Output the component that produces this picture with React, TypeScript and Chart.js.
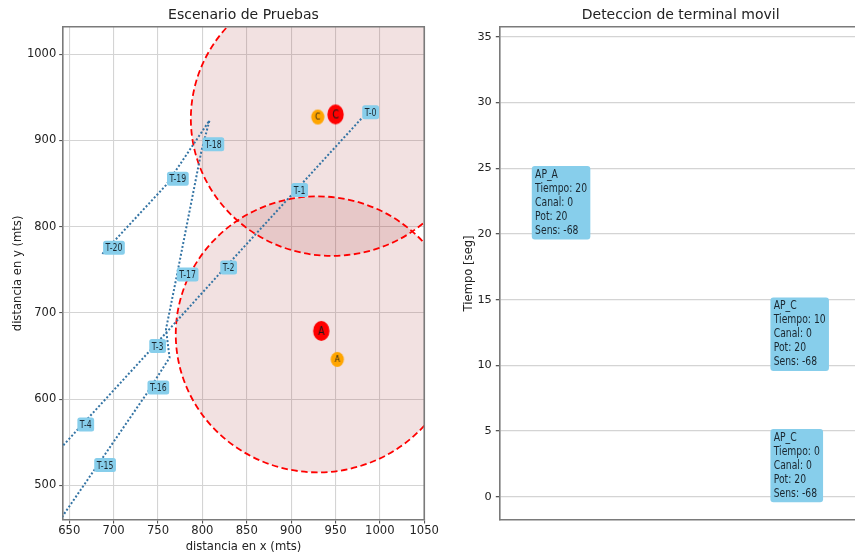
import React, { useEffect, useRef } from 'react';
import { Chart, registerables } from 'chart.js';

Chart.register(...registerables);

const FONT = '"DejaVu Sans", "Liberation Sans", sans-serif';

// ---------------- Left chart: Escenario de Pruebas ----------------
const xTickValues = [650, 700, 750, 800, 850, 900, 950, 1000, 1050];
const yTickValues = [500, 600, 700, 800, 900, 1000];

// trajectory of the mobile terminal (T-5 .. T-14 lie outside the visible window)
const trajX = [979, 899, 819, 739, 658, 578, 617, 677, 737, 763, 759, 770, 799, 808, 759, 687];
const trajY = [925, 835, 745, 654, 563, 473, 426, 516, 606, 648, 681, 737, 888, 923, 848, 768];
const trajLabels = ['T-0', 'T-1', 'T-2', 'T-3', 'T-4', '', '', 'T-15', 'T-16', '', '', 'T-17', 'T-18', '', 'T-19', 'T-20'];

// access points (real) and estimated positions
const apNames = ['A', 'C'];
const apX = [934, 950];
const apY = [679, 930];
const estNames = ['A', 'C'];
const estX = [952, 930];
const estY = [646, 927];

// coverage circles
const coverX = [930, 946];
const coverY = [675, 925];
const coverR = [160, 159];

// ---------------- Right chart: Deteccion de terminal movil ----------------
const tiempoTicks = [0, 5, 10, 15, 20, 25, 30, 35];
const detNames = ['AP_A', 'AP_C', 'AP_C'];
const detSlot = [1, 3, 3];
const detTiempo = [20, 10, 0];
const detCanal = [0, 0, 0];
const detPot = [20, 20, 20];
const detSens = [-68, -68, -68];

const TEXT = '#222222';
const GRID = '#d4d4d4';
const SPINE = '#7a7a7a';
const BOX = '#87ceeb';

function makeMarker(fill: string, rx: number, ry: number, letter: string, size: number) {
  const c = document.createElement('canvas');
  const w = Math.ceil(rx * 2 + 2);
  const h = Math.ceil(ry * 2 + 2);
  c.width = w;
  c.height = h;
  const g = c.getContext('2d')!;
  g.fillStyle = fill;
  g.beginPath();
  g.ellipse(w / 2, h / 2, rx, ry, 0, 0, Math.PI * 2);
  g.fill();
  g.fillStyle = '#1a1a1a';
  g.font = `${size}px ${FONT}`;
  g.textAlign = 'center';
  g.textBaseline = 'middle';
  g.save();
  g.translate(w / 2, h / 2 + 0.5);
  g.scale(0.8, 1);
  g.fillText(letter, 0, 0);
  g.restore();
  return c;
}

function roundRect(ctx: CanvasRenderingContext2D, x: number, y: number, w: number, h: number, r: number) {
  ctx.beginPath();
  ctx.moveTo(x + r, y);
  ctx.lineTo(x + w - r, y);
  ctx.arcTo(x + w, y, x + w, y + r, r);
  ctx.lineTo(x + w, y + h - r);
  ctx.arcTo(x + w, y + h, x + w - r, y + h, r);
  ctx.lineTo(x + r, y + h);
  ctx.arcTo(x, y + h, x, y + h - r, r);
  ctx.lineTo(x, y + r);
  ctx.arcTo(x, y, x + r, y, r);
  ctx.closePath();
}

const coveragePlugin = {
  id: 'coverage',
  beforeDatasetsDraw(chart: any) {
    const { ctx, chartArea: a, scales } = chart;
    const xs = scales.x;
    const ys = scales.y;
    ctx.save();
    ctx.beginPath();
    ctx.rect(a.left, a.top, a.right - a.left, a.bottom - a.top);
    ctx.clip();
    const shapes = coverX.map((cx, i) => {
      const px = xs.getPixelForValue(cx);
      const py = ys.getPixelForValue(coverY[i]);
      const rx = Math.abs(xs.getPixelForValue(cx + coverR[i]) - px);
      const ry = Math.abs(ys.getPixelForValue(coverY[i] + coverR[i]) - py);
      return { px, py, rx, ry };
    });
    shapes.forEach((s) => {
      ctx.beginPath();
      ctx.ellipse(s.px, s.py, s.rx, s.ry, 0, 0, Math.PI * 2);
      ctx.fillStyle = 'rgba(165,42,42,0.14)';
      ctx.fill();
    });
    shapes.forEach((s) => {
      ctx.beginPath();
      ctx.ellipse(s.px, s.py, s.rx, s.ry, 0, 0, Math.PI * 2);
      ctx.setLineDash([6.5, 3.5]);
      ctx.strokeStyle = '#ff0000';
      ctx.lineWidth = 1.8;
      ctx.stroke();
    });
    ctx.restore();
  },
};

const trajLabelPlugin = {
  id: 'trajLabels',
  afterDatasetsDraw(chart: any) {
    const { ctx, chartArea: a, scales } = chart;
    const xs = scales.x;
    const ys = scales.y;
    ctx.save();
    ctx.beginPath();
    ctx.rect(a.left, a.top, a.right - a.left, a.bottom - a.top);
    ctx.clip();
    ctx.font = `10.5px ${FONT}`;
    ctx.textBaseline = 'alphabetic';
    ctx.textAlign = 'left';
    const sx = 0.74;
    trajLabels.forEach((lab, i) => {
      if (!lab) return;
      const px = xs.getPixelForValue(trajX[i]);
      const py = ys.getPixelForValue(trajY[i]);
      const tw = ctx.measureText(lab).width * sx;
      const bw = tw + 5;
      const bh = 14;
      const bx = px + 1;
      const by = py + 0.5 - bh;
      ctx.fillStyle = BOX;
      roundRect(ctx, bx, by, bw, bh, 2.5);
      ctx.fill();
      ctx.save();
      ctx.translate(bx + 2.5, by + bh - 3.3);
      ctx.scale(sx, 1);
      ctx.fillStyle = '#1b2730';
      ctx.fillText(lab, 0, 0);
      ctx.restore();
    });
    ctx.restore();
  },
};

const leftFramePlugin = {
  id: 'leftFrame',
  afterDraw(chart: any) {
    const { ctx, chartArea: a } = chart;
    ctx.save();
    ctx.strokeStyle = SPINE;
    ctx.lineWidth = 1.6;
    ctx.beginPath();
    ctx.moveTo(a.left, a.top);
    ctx.lineTo(a.right, a.top);
    ctx.lineTo(a.right, a.bottom);
    ctx.stroke();
    ctx.restore();
  },
};

const rightFramePlugin = {
  id: 'rightFrame',
  afterDraw(chart: any) {
    const { ctx, chartArea: a } = chart;
    ctx.save();
    ctx.strokeStyle = SPINE;
    ctx.lineWidth = 1.6;
    ctx.beginPath();
    ctx.moveTo(a.left, a.top);
    ctx.lineTo(a.right, a.top);
    ctx.stroke();
    ctx.restore();
  },
};

const detBoxPlugin = {
  id: 'detBoxes',
  afterDatasetsDraw(chart: any) {
    const { ctx, scales } = chart;
    const xs = scales.x;
    const ys = scales.y;
    ctx.save();
    ctx.font = `12px ${FONT}`;
    ctx.textAlign = 'left';
    ctx.textBaseline = 'alphabetic';
    const sx = 0.77;
    const lh = 14;
    detNames.forEach((name, i) => {
      const lines = [
        name,
        `Tiempo: ${detTiempo[i]}`,
        `Canal: ${detCanal[i]}`,
        `Pot: ${detPot[i]}`,
        `Sens: ${detSens[i]}`,
      ];
      const px = xs.getPixelForValue(detSlot[i]);
      const py = ys.getPixelForValue(detTiempo[i]);
      const tw = Math.max(...lines.map((l) => ctx.measureText(l).width)) * sx;
      const pad = 3.3;
      const bx = px - pad;
      const bottom = py + 5.6;
      const top = py - (lines.length - 1) * lh - 11.8;
      ctx.fillStyle = BOX;
      roundRect(ctx, bx, top, tw + pad * 2, bottom - top, 3);
      ctx.fill();
      lines.forEach((l, k) => {
        ctx.save();
        ctx.translate(px, py - (lines.length - 1 - k) * lh);
        ctx.scale(sx, 1);
        ctx.fillStyle = '#1b2730';
        ctx.fillText(l, 0, 0);
        ctx.restore();
      });
    });
    ctx.restore();
  },
};

export default function App() {
  const leftRef = useRef<HTMLCanvasElement | null>(null);
  const rightRef = useRef<HTMLCanvasElement | null>(null);

  useEffect(() => {
    if (!leftRef.current || !rightRef.current) return;
    const apMarkers = apNames.map((n) => makeMarker('#ff0000', 8.2, 10, n, 12));
    const estMarkers = estNames.map((n) => makeMarker('#ffa500', 6.6, 7.4, n, 9.5));

    const left = new Chart(leftRef.current, {
      type: 'scatter',
      data: {
        datasets: [
          {
            data: apX.map((x, i) => ({ x, y: apY[i] })),
            pointStyle: apMarkers as any,
            pointRadius: 9,
            order: 1,
          },
          {
            data: estX.map((x, i) => ({ x, y: estY[i] })),
            pointStyle: estMarkers as any,
            pointRadius: 7,
            order: 2,
          },
          {
            data: trajX.map((x, i) => ({ x, y: trajY[i] })),
            showLine: true,
            borderColor: '#3474a4',
            borderWidth: 2,
            borderDash: [2, 2],
            pointRadius: 0,
            fill: false,
            tension: 0,
            order: 3,
          } as any,
        ],
      },
      options: {
        responsive: false,
        animation: false,
        events: [],
        layout: { padding: { left: 0, right: 14.3, top: 0, bottom: 0 } },
        plugins: {
          legend: { display: false },
          tooltip: { enabled: false },
          title: {
            display: true,
            text: 'Escenario de Pruebas',
            fullSize: false,
            color: TEXT,
            font: { family: FONT, size: 14, weight: 'normal' as any, lineHeight: 1.2 },
            padding: { top: 7, bottom: 3 },
          },
        },
        scales: {
          x: {
            type: 'linear',
            min: 642.6,
            max: 1050,
            afterBuildTicks: (s: any) => {
              s.ticks = xTickValues.map((v) => ({ value: v }));
            },
            afterFit: (s: any) => {
              s.height = 39;
            },
            ticks: {
              callback: (v: any) => String(v),
              autoSkip: false,
              maxRotation: 0,
              color: TEXT,
              font: { family: FONT, size: 11.6 },
              padding: 1,
            },
            grid: { color: GRID, lineWidth: 1.1, tickLength: 3.5, tickColor: '#555' },
            border: { color: SPINE, width: 1.6 },
            title: {
              display: true,
              text: 'distancia en x (mts)',
              color: TEXT,
              font: { family: FONT, size: 11.6, lineHeight: 1.2 },
              padding: { top: 0, bottom: 5 },
            },
          },
          y: {
            type: 'linear',
            min: 459.8,
            max: 1031.6,
            afterBuildTicks: (s: any) => {
              s.ticks = yTickValues.map((v) => ({ value: v }));
            },
            afterFit: (s: any) => {
              s.width = 62.7;
            },
            ticks: {
              callback: (v: any) => String(v),
              autoSkip: false,
              color: TEXT,
              font: { family: FONT, size: 11.5 },
              padding: 3,
            },
            grid: { color: GRID, lineWidth: 1.1, tickLength: 3.5, tickColor: '#555' },
            border: { color: SPINE, width: 1.6 },
            title: {
              display: true,
              text: 'distancia en y (mts)',
              color: TEXT,
              font: { family: FONT, size: 11.6, lineHeight: 1.2 },
              padding: { top: 11, bottom: 0 },
            },
          },
        },
      },
      plugins: [coveragePlugin, trajLabelPlugin, leftFramePlugin],
    } as any);

    const right = new Chart(rightRef.current, {
      type: 'scatter',
      data: {
        datasets: [
          {
            data: detSlot.map((x, i) => ({ x, y: detTiempo[i] })),
            pointRadius: 0,
          },
        ],
      },
      options: {
        responsive: false,
        animation: false,
        events: [],
        layout: { padding: { left: 0, right: 8, top: 0, bottom: 0 } },
        plugins: {
          legend: { display: false },
          tooltip: { enabled: false },
          title: {
            display: true,
            text: 'Deteccion de terminal movil',
            fullSize: false,
            color: TEXT,
            font: { family: FONT, size: 14, weight: 'normal' as any, lineHeight: 1.2 },
            padding: { top: 7, bottom: 3 },
          },
        },
        scales: {
          x: {
            type: 'linear',
            min: 0.7,
            max: 3.74,
            afterFit: (s: any) => {
              s.height = 39;
            },
            ticks: { display: false },
            grid: { display: false },
            border: { color: SPINE, width: 1.6 },
          },
          y: {
            type: 'linear',
            min: -1.77,
            max: 35.76,
            afterBuildTicks: (s: any) => {
              s.ticks = tiempoTicks.map((v) => ({ value: v }));
            },
            afterFit: (s: any) => {
              s.width = 59.3;
            },
            ticks: {
              callback: (v: any) => String(v),
              autoSkip: false,
              color: TEXT,
              font: { family: FONT, size: 11.3 },
              padding: 4,
            },
            grid: { color: GRID, lineWidth: 1.3, tickLength: 3.5, tickColor: '#555' },
            border: { color: SPINE, width: 1.6 },
            title: {
              display: true,
              text: 'Tiempo [seg]',
              color: TEXT,
              font: { family: FONT, size: 11.6, lineHeight: 1.2 },
              padding: { top: 22, bottom: 0 },
            },
          },
        },
      },
      plugins: [detBoxPlugin, rightFramePlugin],
    } as any);

    return () => {
      left.destroy();
      right.destroy();
    };
  }, []);

  return (
    <div
      style={{
        position: 'fixed',
        left: 0,
        top: 0,
        width: 855,
        height: 559,
        overflow: 'hidden',
        background: '#ffffff',
      }}
    >
      <canvas
        ref={leftRef}
        width={440}
        height={559}
        style={{ position: 'absolute', left: 0, top: 0, width: 440, height: 559 }}
      />
      <canvas
        ref={rightRef}
        width={430}
        height={559}
        style={{ position: 'absolute', left: 440, top: 0, width: 430, height: 559 }}
      />
    </div>
  );
}
